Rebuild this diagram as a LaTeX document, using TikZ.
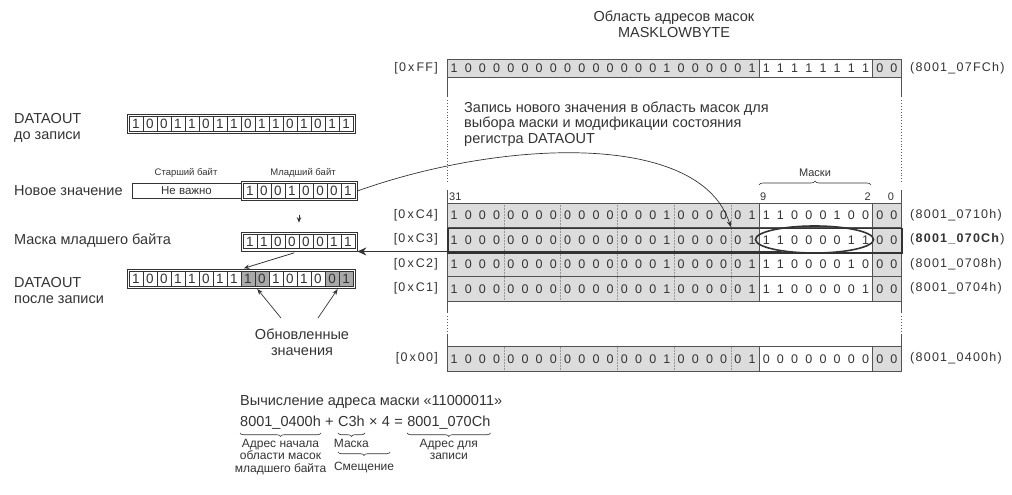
\documentclass[tikz,border=0pt]{standalone}
\usepackage{fontspec}
\setmainfont{Liberation Sans}
\newfontfamily\addrfont[LetterSpace=10]{Liberation Sans}
\usetikzlibrary{calc,positioning,shapes.geometric,arrows.meta,decorations.pathreplacing}
\definecolor{ink}{HTML}{333333}
\definecolor{rowgray}{HTML}{DCDCDC}
\definecolor{updgray}{HTML}{A9A9A9}
\definecolor{sepgray}{HTML}{999999}
\tikzset{
  lbl/.style={font=\fontsize{14.5}{15.5}\selectfont,text=ink,inner sep=0pt},
  caption/.style={font=\fontsize{12}{12.3}\selectfont,text=ink,inner sep=0pt,align=center},
  smallcap/.style={font=\fontsize{9.5}{11}\selectfont,text=ink,inner sep=0pt},
  bitno/.style={font=\fontsize{11}{12}\selectfont,text=ink,inner sep=0pt},
  bit/.style={font=\fontsize{12.5}{13}\selectfont,text=ink,inner sep=0pt},
  addr/.style={font=\addrfont\fontsize{12.5}{14}\selectfont,text=ink,inner sep=0pt},
  calcpart/.style={font=\fontsize{14.5}{15.5}\selectfont,text=ink,inner sep=0pt,text height=10.5pt,text depth=3pt},
  cell/.style={draw=ink,line width=0.7pt,minimum width=14pt,minimum height=14.5pt,inner sep=0pt,font=\fontsize{13.5}{14}\selectfont,text=ink},
  regframe/.style={draw=ink,line width=0.7pt,minimum height=19pt,inner sep=0pt},
  rowline/.style={draw=ink!85,line width=0.8pt},
  sepline/.style={sepgray,line width=0.5pt,densely dotted},
  axisdots/.style={ink!80,line width=0.9pt,dotted},
  bigarrow/.style={ink,line width=1.6pt,-{Stealth[length=9pt,width=8pt]}},
  thinarrow/.style={ink,line width=0.7pt,-{Stealth[length=6pt,width=4.5pt]}},
  smallarrow/.style={ink,line width=0.8pt,-{Stealth[length=5.5pt,width=4.5pt]}},
  ubrace/.style={ink,line width=0.6pt,decorate,decoration={brace,mirror,amplitude=3.5pt}},
  obrace/.style={ink,line width=0.6pt,decorate,decoration={brace,amplitude=4pt}},
}
\def\bitw{14.1875}
\def\hibits{1,0,0,0,0,0,0,0,0,0,0,0,0,0,0,1,0,0,0,0,0,1}
\begin{document}
\begin{tikzpicture}[x=1pt,y=-1pt]
\useasboundingbox (0,0) rectangle (1012,495);
% mask area title
\node[lbl,align=center,font=\fontsize{14.5}{16}\selectfont] (title) at (674,24) {Область адресов масок\\MASKLOWBYTE};

% row 0xFF
\fill[rowgray] (447,59.5) rectangle (901,77.5);
\fill[white] (447+22*\bitw,59.5) rectangle (447+30*\bitw,77.5);
\draw[rowline] (447,59.5) rectangle (901,77.5)
  (447+22*\bitw,59.5) -- (447+22*\bitw,77.5)
  (447+30*\bitw,59.5) -- (447+30*\bitw,77.5);
\foreach \d [count=\i] in \hibits
  \node[bit] (rFF-h\i) at ({447+(\i-0.5)*\bitw},68.5) {\d};
\foreach \d [count=\i] in {1,1,1,1,1,1,1,1}
  \node[bit] (rFF-l\i) at ({447+(\i+21.5)*\bitw},68.5) {\d};
\foreach \i in {1,2}
  \node[bit] (rFF-z\i) at ({447+(\i+29.5)*\bitw},68.5) {0};
\node[addr,anchor=east] (lab-FF) at (438,68.5) {[0\,x\,FF]};
\node[addr,anchor=west] (adr-FF) at (910,68.5) {(8001\_07FCh)};

% side lines of the mask area
\foreach \x in {447,901} {
  \draw[rowline] (\x,77.5) -- (\x,97);
  \draw[axisdots] (\x,100) -- (\x,184);
  \draw[rowline] (\x,190) -- (\x,203);
  \draw[rowline] (\x,301) -- (\x,313);
  \draw[axisdots] (\x,316) -- (\x,331);
  \draw[rowline] (\x,334) -- (\x,346.5);
}

\node[lbl,align=left,anchor=north west] (note) at (464,101.5) {Запись нового значения в область масок для\\выбора маски и модификации состояния\\регистра DATAOUT};

% bit numbers
\node[bitno,anchor=south west] (bit31) at (449,201) {31};
\node[bitno,anchor=south west] (bit9) at (760,201) {9};
\node[bitno,anchor=south east] (bit2) at (871,201) {2};
\node[bitno,anchor=south] (bit0) at (891,201) {0};
\draw[obrace] (759,185) -- (871,185);
\node[bitno] (masks) at (815,173) {Маски};

% mask rows
\foreach \ry/\lab/\lo/\adr in {203/C4/{1,1,0,0,0,1,0,0}/{8001\_0710h},
    227.5/C3/{1,1,0,0,0,0,1,1}/{\textbf{8001\_070Ch}},
    252/C2/{1,1,0,0,0,0,1,0}/{8001\_0708h},
    276.5/C1/{1,1,0,0,0,0,0,1}/{8001\_0704h},
    346.5/00/{0,0,0,0,0,0,0,0}/{8001\_0400h}}{
  \pgfmathsetmacro\ym{\ry+12.25}
  \fill[rowgray] (447,\ry) rectangle (901,\ry+24.5);
  \fill[white] (447+22*\bitw,\ry) rectangle (447+30*\bitw,\ry+24.5);
  \foreach \k in {4,8,...,20}
    \draw[sepline] (447+\k*\bitw,\ry) -- (447+\k*\bitw,\ry+24.5);
  \draw[rowline] (447,\ry) rectangle (901,\ry+24.5)
    (447+22*\bitw,\ry) -- (447+22*\bitw,\ry+24.5)
    (447+30*\bitw,\ry) -- (447+30*\bitw,\ry+24.5);
  \foreach \d [count=\i] in \hibits
    \node[bit] (r\lab-h\i) at ({447+(\i-0.5)*\bitw},\ym) {\d};
  \foreach \d [count=\i] in \lo
    \node[bit] (r\lab-l\i) at ({447+(\i+21.5)*\bitw},\ym) {\d};
  \foreach \i in {1,2}
    \node[bit] (r\lab-z\i) at ({447+(\i+29.5)*\bitw},\ym) {0};
  \node[addr,anchor=east] (lab-\lab) at (438,\ym) {[0\,x\,\lab]};
  \node[addr,anchor=west] (adr-\lab) at (910,\ym) {(\adr)};
}
\node[draw=ink,line width=1.5pt,minimum width=454pt,minimum height=24.5pt,inner sep=0pt,anchor=north west] (c3-frame) at (447,227.5) {};
\node[ellipse,draw=ink,line width=1.6pt,minimum width=118pt,minimum height=27pt,inner sep=0pt] (c3-ell) at (814.5,239.5) {};
\coordinate (c3-in) at ({447+20*\bitw},227);

% DATAOUT before
\node[lbl,align=left,anchor=west] (before-lbl) at (14,128) {DATAOUT\\до записи};
\node[regframe,minimum width=228pt] (before) at (241,124) {};
\foreach \d [count=\i] in {1,0,0,1,1,0,1,1,0,1,1,0,1,0,1,1}
  \node[cell] (before-\i) at ({129+(\i-0.5)*14},124) {\d};

% new value
\node[lbl,anchor=west] (nv-lbl) at (14,191) {Новое значение};
\node[cell,minimum width=109pt,font=\fontsize{11.5}{12}\selectfont] (nv-high) at (186.5,191) {Не важно};
\node[regframe,minimum width=116pt] (nv-low) at (299,191) {};
\foreach \d [count=\i] in {1,0,0,1,0,0,0,1}
  \node[cell] (nv-\i) at ({243+(\i-0.5)*14},191) {\d};
\node[smallcap] (hi-cap) at (186,173) {Старший байт};
\node[smallcap] (lo-cap) at (303,173) {Младший байт};

% low byte mask
\node[lbl,anchor=west] (mask-lbl) at (14,241) {Маска младшего байта};
\node[regframe,minimum width=116pt] (mask) at (299,241.5) {};
\foreach \d [count=\i] in {1,1,0,0,0,0,1,1}
  \node[cell] (mask-\i) at ({243+(\i-0.5)*14},241.5) {\d};

% DATAOUT after
\node[lbl,align=left,anchor=west] (after-lbl) at (14,290.5) {DATAOUT\\после записи};
\node[regframe,minimum width=228pt] (after) at (241,279) {};
\foreach \d/\f [count=\i] in {1/white,0/white,0/white,1/white,1/white,0/white,1/white,1/white,1/updgray,0/updgray,1/white,0/white,1/white,0/white,0/updgray,1/updgray}
  \node[cell,fill=\f] (after-\i) at ({129+(\i-0.5)*14},279) {\d};
\node[lbl,align=center,anchor=north] (upd) at (302,329) {Обновленные\\значения};
\coordinate (upd-l) at (281,318);
\coordinate (upd-r) at (318,318);

% connectors
\draw[thinarrow] (nv-low.east) .. controls (500,140) and (700,130) .. (c3-in);
\draw[bigarrow] (c3-ell.200) -- (c3-ell.200 -| mask.east);
\draw[smallarrow,shorten <=14pt,shorten >=9pt] (nv-low.south) -- (mask.north);
\draw[smallarrow,shorten <=5pt,shorten >=3pt] (mask.south) -- (after.north);
\draw[thinarrow,shorten >=3pt] (upd-l) -- (after-9.south east);
\draw[thinarrow,shorten >=3pt] (upd-r) -- (after-15.south east);

% address calculation
\node[lbl,anchor=west] (calc-title) at (240,402) {Вычисление адреса маски «11000011»};
\node[calcpart,anchor=west] (f-base) at (240,423) {8001\_0400h};
\node[calcpart,right=4pt of f-base] (f-plus) {+};
\node[calcpart,right=4pt of f-plus] (f-mask) {C3h};
\node[calcpart,right=4pt of f-mask] (f-times) {×};
\node[calcpart,right=4pt of f-times] (f-four) {4};
\node[calcpart,right=4pt of f-four] (f-eq) {=};
\node[calcpart,right=4pt of f-eq] (f-res) {8001\_070Ch};
\draw[ubrace] ($(f-base.south west)+(0,3)$) -- ($(f-base.south east)+(0,3)$);
\draw[ubrace] ($(f-mask.south west)+(0,3)$) -- ($(f-mask.south east)+(0,3)$);
\draw[ubrace] ($(f-res.south west)+(0,3)$) -- ($(f-res.south east)+(0,3)$);
\node[caption,anchor=north] (cap-base) at ($(f-base.south)+(0,9)$) {Адрес начала\\области масок\\младшего байта};
\node[caption,anchor=north] (cap-mask) at ($(f-mask.south)+(0,9)$) {Маска};
\node[caption,anchor=north] (cap-res) at ($(f-res.south)+(0,9)$) {Адрес для\\записи};
\coordinate (off-l) at ($(f-mask.south west)+(0,22)$);
\coordinate (off-r) at ($(f-four.south east)+(0,22)$);
\draw[ubrace] (off-l) -- (off-r);
\node[caption,anchor=north] (cap-off) at ($(off-l)!0.5!(off-r)+(0,9.5)$) {Смещение};
\end{tikzpicture}
\end{document}
